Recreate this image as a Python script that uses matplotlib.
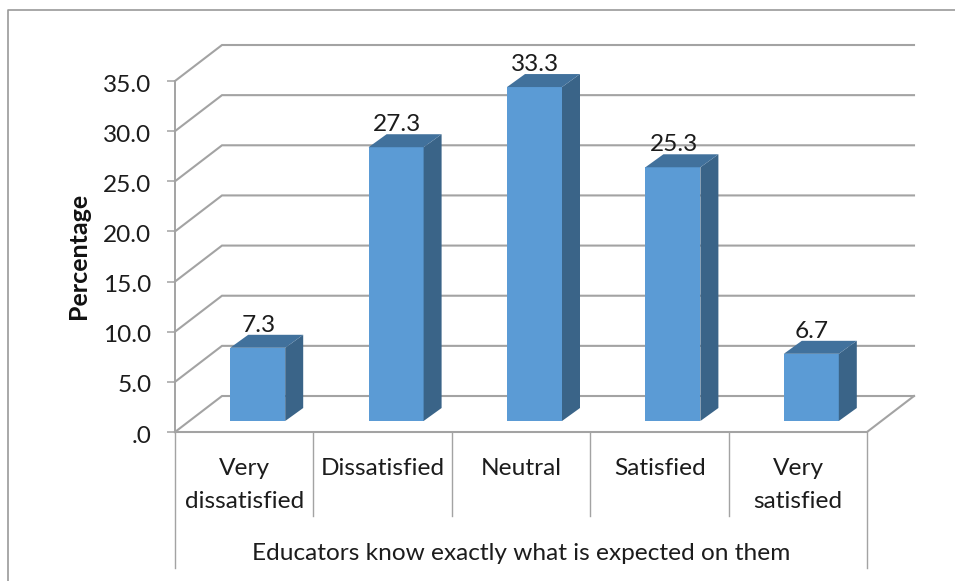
import matplotlib
matplotlib.use("Agg")
import matplotlib.pyplot as plt
from matplotlib.patches import Polygon
from matplotlib.transforms import ScaledTranslation

# Datos
categorias = ["Very\ndissatisfied", "Dissatisfied", "Neutral", "Satisfied", "Very\nsatisfied"]
valores = [7.3, 27.3, 33.3, 25.3, 6.7]
ticks_y = [0, 5, 10, 15, 20, 25, 30, 35]
etiquetas_y = [".0", "5.0", "10.0", "15.0", "20.0", "25.0", "30.0", "35.0"]
titulo_x = "Educators know exactly what is expected on them"
titulo_y = "Percentage"

plt.rcParams["font.family"] = ["Lato", "DejaVu Sans"]

W, H = 955, 581
fig = plt.figure(figsize=(W / 100, H / 100), dpi=100, facecolor="white")

# Eje frontal del grafico: x 175-867 px, y 81-432 px
ax = fig.add_axes([175 / W, 1 - 432 / H, (867 - 175) / W, (432 - 81) / H])
ax.set_xlim(0, 5)
ax.set_ylim(0, 35)
ax.patch.set_alpha(0)
for s in ["top", "right", "bottom"]:
    ax.spines[s].set_visible(False)

gris = "#a3a3a3"
texto = "#1c1c1c"
fs = 17.6
ax.spines["left"].set_color(gris)
ax.spines["left"].set_linewidth(1.4)
ax.set_yticks(ticks_y)
ax.set_yticklabels(etiquetas_y, fontsize=fs, color=texto)
ax.tick_params(axis="y", length=6, width=1.1, color=gris, pad=11)
ax.set_xticks([])

# Bajar un poco las etiquetas del eje y
bajar = ScaledTranslation(0, -1.5 / 72, fig.dpi_scale_trans)
for etiqueta in ax.get_yticklabels():
    etiqueta.set_transform(etiqueta.get_transform() + bajar)

# Profundidad de la pared (en unidades de datos)
prof_x = 47 / 138.4
prof_y = 36 / 10.03

# Paredes y lineas de cuadricula
for v in ticks_y:
    ax.plot([0, prof_x, 5 + prof_x], [v, v + prof_y, v + prof_y], color=gris, lw=1.5,
            clip_on=False, zorder=1, solid_joinstyle="miter")
ax.plot([0, 5, 5 + prof_x], [0, 0, prof_y], color=gris, lw=1.5, clip_on=False, zorder=1,
        solid_joinstyle="miter")

# Separadores bajo el eje
trans = ax.get_xaxis_transform()
for i in range(6):
    fondo = -136 / 351 if i in (0, 5) else -84 / 351
    ax.plot([i, i], [0, fondo], transform=trans, color=gris, lw=1.0, clip_on=False, zorder=1)

# Barras 3D
ancho = 55 / 138.4
desp_x = 13.5 / 138.4
desp_y = 11 / 10.03
bx = 18 / 138.4
by = 13 / 10.03
for i, v in enumerate(valores):
    x0 = i + 0.5 + desp_x - ancho / 2
    x1 = x0 + ancho
    y0 = desp_y
    y1 = desp_y + v
    ax.add_patch(Polygon([(x0, y0), (x1, y0), (x1, y1), (x0, y1)], closed=True,
                         fc="#5b9bd5", ec="none", clip_on=False, zorder=3))
    ax.add_patch(Polygon([(x1, y0), (x1 + bx, y0 + by), (x1 + bx, y1 + by), (x1, y1)], closed=True,
                         fc="#3a6488", ec="none", clip_on=False, zorder=3))
    ax.add_patch(Polygon([(x0, y1), (x1, y1), (x1 + bx, y1 + by), (x0 + bx, y1 + by)], closed=True,
                         fc="#41719c", ec="none", clip_on=False, zorder=3))
    ax.annotate(f"{v:.1f}", xy=((x0 + x1) / 2, y1 + by), xytext=(0.5, -0.7), textcoords="offset points",
                ha="center", va="bottom", fontsize=fs, color=texto, zorder=4, annotation_clip=False)

# Etiquetas de categorias
for i, c in enumerate(categorias):
    ax.annotate(c, xy=(i + 0.5, 0), xycoords=trans, xytext=(0.2, -18.5), textcoords="offset points",
                ha="center", va="top", fontsize=fs, color=texto, linespacing=1.7,
                annotation_clip=False)

fig.text(521 / W, 1 - 553.5 / H, titulo_x, ha="center", va="center", fontsize=fs, color=texto)
fig.text(79 / W, 1 - 256 / H, titulo_y, ha="center", va="center", rotation=90,
         fontsize=18, fontweight="bold", color="#111111")

# Marco exterior
fig.add_artist(plt.Line2D([8 / W, 8 / W, 1], [0, 1 - 10 / H, 1 - 10 / H], color="#9a9a9a", lw=1.2))

fig.savefig("out.png", dpi=100)
